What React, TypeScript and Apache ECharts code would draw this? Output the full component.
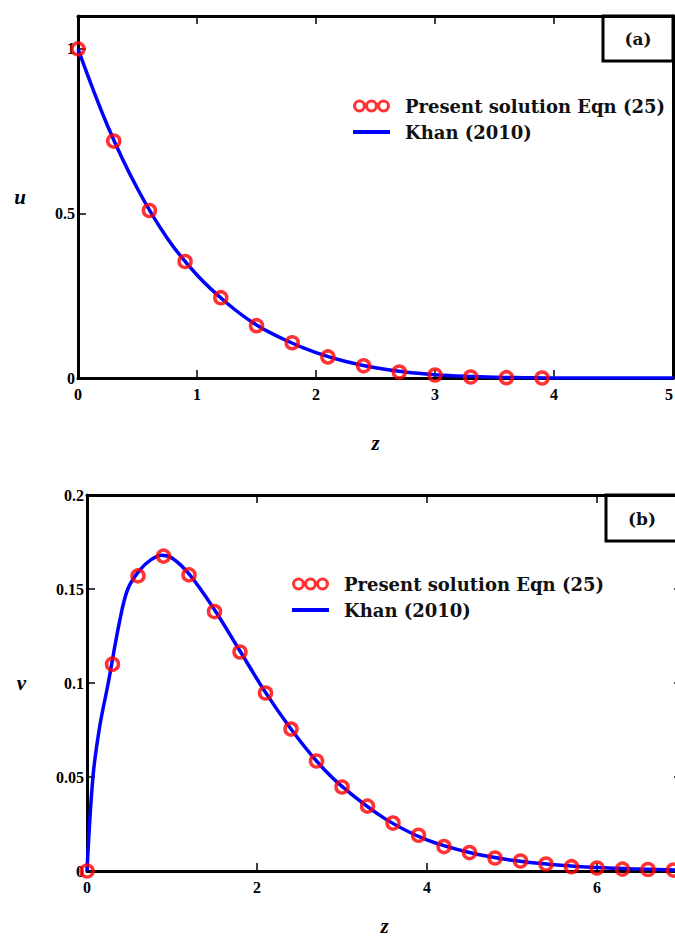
import React, { useEffect, useRef } from "react";
import * as echarts from "echarts";

// ---- Panel (a): u vs z ----
const uZ = [0, 0.3, 0.6, 0.9, 1.2, 1.5, 1.8, 2.1, 2.4, 2.7, 3.0, 3.3, 3.6, 3.9];
const uPresent = [1, 0.72, 0.509, 0.354, 0.244, 0.159, 0.107, 0.064, 0.037, 0.018, 0.009, 0.003, 0.001, 0.0];
const uKhanZ = [0, 0.25, 0.5, 0.75, 1.0, 1.25, 1.5, 1.75, 2.0, 2.25, 2.5, 2.75, 3.0, 3.25, 3.5, 3.75, 4.0, 4.5, 5.0];
const uKhan = [1, 0.765, 0.575, 0.425, 0.313, 0.228, 0.161, 0.114, 0.077, 0.05, 0.031, 0.018, 0.01, 0.005, 0.002, 0.001, 0.0, 0.0, 0.0];
const uXTicks = [0, 1, 2, 3, 4, 5];
const uYTicks = [0, 0.5, 1];

// ---- Panel (b): v vs z ----
const vZ = [0, 0.3, 0.6, 0.9, 1.2, 1.5, 1.8, 2.1, 2.4, 2.7, 3.0, 3.3, 3.6, 3.9, 4.2, 4.5, 4.8, 5.1, 5.4, 5.7, 6.0, 6.3, 6.6, 6.9];
const vPresent = [0, 0.110, 0.157, 0.1675, 0.1575, 0.138, 0.1165, 0.0947, 0.0755, 0.0585, 0.0447, 0.0345, 0.0255, 0.019, 0.013, 0.0098, 0.0069, 0.0053, 0.0037, 0.0023, 0.0016, 0.001, 0.0008, 0.0005];
const vKhanZ = [0, 0.07, 0.15, 0.25, 0.38, 0.48, 0.62, 0.75, 0.88, 1.0, 1.2, 1.5, 1.8, 2.1, 2.4, 2.7, 3.0, 3.5, 4.0, 4.5, 5.0, 5.5, 6.0, 6.5, 7.0];
const vKhan = [0, 0.05, 0.077, 0.1, 0.132, 0.15, 0.16, 0.1655, 0.168, 0.1665, 0.158, 0.139, 0.117, 0.095, 0.0755, 0.0585, 0.045, 0.028, 0.0165, 0.0098, 0.0057, 0.0033, 0.0018, 0.001, 0.0005];
const vXTicks = [0, 2, 4, 6];
const vYTicks = [0, 0.05, 0.1, 0.15, 0.2];

const NAME_PRESENT = "Present solution Eqn (25)";
const NAME_KHAN = "Khan (2010)";

const pairs = (xs: number[], ys: number[]) => xs.map((x, i) => [x, ys[i]]);

const ring = (cx: number) =>
  `M${cx - 6.5} 6.5 A6.5 6.5 0 1 0 ${cx + 6.5} 6.5 A6.5 6.5 0 1 0 ${cx - 6.5} 6.5 Z ` +
  `M${cx - 3.4} 6.5 A3.4 3.4 0 1 1 ${cx + 3.4} 6.5 A3.4 3.4 0 1 1 ${cx - 3.4} 6.5 Z`;
const ringsIcon = "path://" + ring(6.5) + " " + ring(18.5) + " " + ring(30.5);

const tickFmt = (ticks: number[]) => (v: number) => {
  const t = ticks.find((k) => Math.abs(k - v) < 1e-9);
  return t === undefined ? "" : String(t);
};

const labelStyle = {
  fontFamily: "Liberation Serif",
  fontWeight: "bold" as const,
  fontSize: 16,
  color: "#000",
};
const nameStyle = {
  fontFamily: "Liberation Serif",
  fontWeight: "bold" as const,
  fontStyle: "italic" as const,
  fontSize: 21,
  lineHeight: 20,
  color: "#000",
};
const axisLine = { show: true, onZero: false, lineStyle: { color: "#000", width: 3 } };
const insideTick = { show: true, inside: true, length: 8, lineStyle: { color: "#000", width: 1.5 } };

export default function App() {
  const ref = useRef<HTMLDivElement>(null);
  useEffect(() => {
    document.body.style.margin = "0";
    const chart = echarts.init(ref.current!, null, { renderer: "svg" });
    const legendCommon = {
      orient: "vertical" as const,
      itemWidth: 37,
      itemHeight: 13,
      itemGap: 8,
      padding: 0,
      selectedMode: false,
      textStyle: {
        fontFamily: "DejaVu Serif",
        fontWeight: "bold" as const,
        fontSize: 18,
        color: "#111",
        padding: [0, 0, 0, 10],
      },
      data: [
        { name: NAME_PRESENT, icon: ringsIcon, itemStyle: { color: "#ff0000", borderWidth: 0 } },
        { name: NAME_KHAN, itemStyle: { opacity: 0 }, lineStyle: { width: 4 } },
      ],
    };
    chart.setOption({
      animation: false,
      backgroundColor: "#fff",
      grid: [
        { left: 78, top: 16, width: 595, height: 362, containLabel: false, outerBoundsMode: "none" },
        { left: 87, top: 495, width: 595, height: 376, containLabel: false, outerBoundsMode: "none" },
      ],
      legend: [
        { ...legendCommon, left: 351, top: 97 },
        { ...legendCommon, left: 290, top: 575 },
      ],
      xAxis: [
        {
          gridIndex: 0, type: "value", min: 0, max: 5, interval: 1, position: "bottom",
          axisLine, axisTick: insideTick, splitLine: { show: false },
          axisLabel: { ...labelStyle, margin: 8, alignMaxLabel: "right", formatter: tickFmt(uXTicks) },
          name: "z", nameLocation: "middle", nameGap: 55, nameTextStyle: nameStyle,
        },
        {
          gridIndex: 0, type: "value", min: 0, max: 5, interval: 1, position: "top",
          axisLine, axisTick: insideTick, splitLine: { show: false }, axisLabel: { show: false },
        },
        {
          gridIndex: 1, type: "value", min: 0, max: 7, interval: 2, position: "bottom",
          axisLine, axisTick: insideTick, splitLine: { show: false },
          axisLabel: { ...labelStyle, margin: 8, formatter: tickFmt(vXTicks) },
          name: "z", nameLocation: "middle", nameGap: 45, nameTextStyle: nameStyle,
        },
        {
          gridIndex: 1, type: "value", min: 0, max: 7, interval: 2, position: "top",
          axisLine, axisTick: insideTick, splitLine: { show: false }, axisLabel: { show: false },
        },
      ],
      yAxis: [
        {
          gridIndex: 0, type: "value", min: 0, max: 1.1, interval: 0.5, position: "left",
          axisLine, axisTick: insideTick, splitLine: { show: false },
          axisLabel: { ...labelStyle, margin: 3, formatter: tickFmt(uYTicks) },
          name: "u", nameLocation: "middle", nameRotate: 0, nameGap: 52, nameTextStyle: nameStyle,
        },
        {
          gridIndex: 0, type: "value", min: 0, max: 1.1, interval: 0.5, position: "right",
          axisLine, axisTick: { show: false }, splitLine: { show: false }, axisLabel: { show: false },
        },
        {
          gridIndex: 1, type: "value", min: 0, max: 0.2, interval: 0.05, position: "left",
          axisLine, axisTick: insideTick, splitLine: { show: false },
          axisLabel: { ...labelStyle, margin: 3, formatter: tickFmt(vYTicks) },
          name: "v", nameLocation: "middle", nameRotate: 0, nameGap: 61,
          nameTextStyle: { ...nameStyle, padding: [8, 0, 0, 0] },
        },
        {
          gridIndex: 1, type: "value", min: 0, max: 0.2, interval: 0.05, position: "right",
          axisLine, axisTick: insideTick, splitLine: { show: false }, axisLabel: { show: false },
        },
      ],
      series: [
        {
          name: NAME_KHAN, type: "line", xAxisIndex: 0, yAxisIndex: 0,
          data: pairs(uKhanZ, uKhan), showSymbol: false, symbol: "none",
          smooth: 0.35,
          lineStyle: { color: "#0000ff", width: 3.5 }, itemStyle: { color: "#0000ff" }, z: 3,
        },
        {
          name: NAME_PRESENT, type: "scatter", xAxisIndex: 0, yAxisIndex: 0,
          data: pairs(uZ, uPresent), symbol: "circle", symbolSize: 12,
          itemStyle: { color: "transparent", borderColor: "#ff0000", borderWidth: 3.5 }, z: 4,
        },
        {
          name: NAME_KHAN, type: "line", xAxisIndex: 2, yAxisIndex: 2,
          data: pairs(vKhanZ, vKhan), showSymbol: false, symbol: "none",
          smooth: 0.35,
          lineStyle: { color: "#0000ff", width: 3.5 }, itemStyle: { color: "#0000ff" }, z: 3,
        },
        {
          name: NAME_PRESENT, type: "scatter", xAxisIndex: 2, yAxisIndex: 2,
          data: pairs(vZ, vPresent), symbol: "circle", symbolSize: 12,
          itemStyle: { color: "transparent", borderColor: "#ff0000", borderWidth: 3.5 }, z: 4,
        },
      ],
      graphic: [
        {
          type: "group", z: 100,
          children: [
            { type: "rect", shape: { x: 603, y: 16, width: 70, height: 45 }, style: { fill: "#fff", stroke: "#000", lineWidth: 3 } },
            { type: "text", x: 638, y: 39, style: { text: "(a)", fontFamily: "DejaVu Serif", fontWeight: "bold", fontSize: 17, fill: "#111", align: "center", verticalAlign: "middle" } },
            { type: "rect", shape: { x: 606, y: 495, width: 76, height: 46 }, style: { fill: "#fff", stroke: "#000", lineWidth: 3 } },
            { type: "text", x: 642, y: 519, style: { text: "(b)", fontFamily: "DejaVu Serif", fontWeight: "bold", fontSize: 17, fill: "#111", align: "center", verticalAlign: "middle" } },
          ],
        },
      ],
    });
    return () => chart.dispose();
  }, []);
  return <div ref={ref} style={{ width: 675, height: 940 }} />;
}
